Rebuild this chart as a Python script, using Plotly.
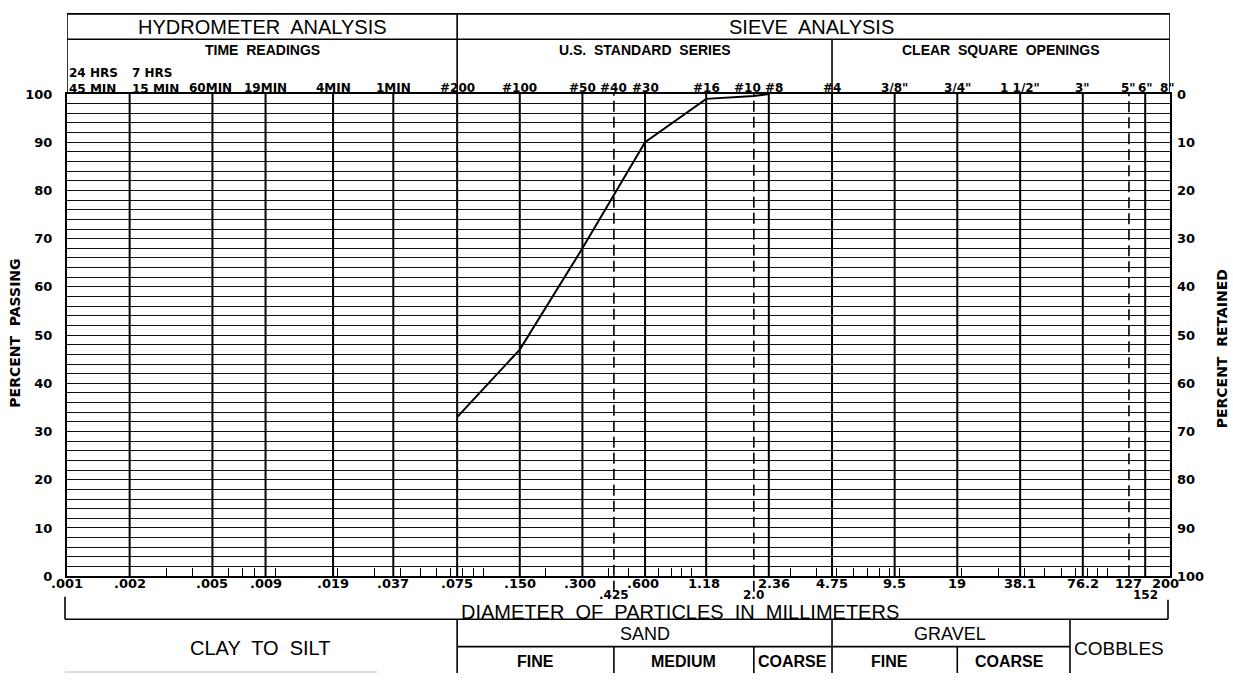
import math
import plotly.graph_objects as go

W, H = 1233, 681

# ---------------- data ----------------
sieve_mm = [0.075, 0.150, 0.300, 0.425, 0.600, 1.18, 2.0, 2.36]
percent_passing = [33, 47, 68, 79, 90, 99, 99.6, 100]

solid_lines_mm = [0.002, 0.005, 0.009, 0.019, 0.037, 0.075, 0.150, 0.300, 0.600,
                  1.18, 2.36, 4.75, 9.5, 19, 38.1, 76.2, 152]
dashed_lines_mm = [0.425, 2.0, 127]

bottom_tick_mm = [0.001, 0.002, 0.005, 0.009, 0.019, 0.037, 0.075, 0.150, 0.300,
                  0.600, 1.18, 2.36, 4.75, 9.5, 19, 38.1, 76.2, 127, 200]
bottom_tick_text = [".001", ".002", ".005", ".009", ".019", ".037", ".075", ".150",
                    ".300", ".600", "1.18", "2.36", "4.75", "9.5", "19", "38.1",
                    "76.2", "127", "200"]
lower_tick_mm = [0.425, 2.0, 152]
lower_tick_text = [".425", "2.0", "152"]

time_mm = [0.001, 0.002, 0.005, 0.009, 0.019, 0.037]
time_text = ["24 HRS<br>45 MIN", "7 HRS<br>15 MIN", "60MIN", "19MIN", "4MIN", "1MIN"]
sieve_no_mm = [0.075, 0.150, 0.300, 0.425, 0.600, 1.18, 2.0, 2.36, 4.75]
sieve_no_text = ["#200", "#100", "#50", "#40", "#30", "#16", "#10", "#8", "#4"]
opening_mm = [9.5, 19, 38.1, 76.2, 127, 152, 200]
opening_text = ['3/8"', '3/4"', '1 1/2"', '3"', '5"', '6"', '8"']

y_left_ticks = [0, 10, 20, 30, 40, 50, 60, 70, 80, 90, 100]

# classification boundaries (mm)
x_min_mm, x_max_mm = 0.001, 200
fines_sand_mm = 0.075
sand_fine_med_mm = 0.425
sand_med_coarse_mm = 2.0
sand_gravel_mm = 4.75
gravel_fine_coarse_mm = 19

# ---------------- helpers ----------------
def px(x):
    return x / W

def py(y):
    return 1 - y / H

def lg(v):
    return math.log10(v)

BLACK = "#000000"
FONT_B = dict(family="DejaVu Sans", size=13, color=BLACK, weight="bold")

fig = go.Figure()

fig.add_trace(go.Scatter(x=sieve_mm, y=percent_passing, mode="lines",
                         line=dict(color=BLACK, width=2),
                         showlegend=False, hoverinfo="skip"))
# invisible trace on right axis (percent retained)
fig.add_trace(go.Scatter(x=sieve_mm, y=[100 - p for p in percent_passing],
                         yaxis="y2", mode="lines", line=dict(width=0),
                         opacity=0, showlegend=False, hoverinfo="skip"))

shapes = []
# vertical grid lines
for v in solid_lines_mm:
    shapes.append(dict(type="line", xref="x", yref="y", x0=v, x1=v, y0=0, y1=100,
                       line=dict(color=BLACK, width=2)))
for v in dashed_lines_mm:
    y0 = py(598) if v in lower_tick_mm else py(582)
    shapes.append(dict(type="line", xref="x", yref="paper", x0=v, x1=v,
                       y0=y0, y1=py(89),
                       line=dict(color=BLACK, width=1.6, dash="11px,5px")))

LW = 1.6
def hline(xref, x0, x1, y, width=LW, color=BLACK):
    shapes.append(dict(type="line", xref=xref, yref="paper", x0=x0, x1=x1,
                       y0=py(y), y1=py(y), line=dict(color=color, width=width)))

def vline(xref, x, y0, y1, width=LW):
    shapes.append(dict(type="line", xref=xref, yref="paper", x0=x, x1=x,
                       y0=py(y0), y1=py(y1), line=dict(color=BLACK, width=width)))

# header box
hline("x", x_min_mm, x_max_mm, 7)
hline("x", x_min_mm, x_max_mm, 33)
vline("x", x_min_mm, 7, 89)
vline("x", x_max_mm, 7, 89)
vline("x", fines_sand_mm, 7, 89)
vline("x", sand_gravel_mm, 33, 89)

# footer bracket and classification table
vline("paper", px(65), 603, 626)
hline("paper", px(65), px(1168), 626)
vline("paper", px(1168), 606, 626)
vline("x", fines_sand_mm, 626, 681)
vline("x", sand_gravel_mm, 626, 681)
vline("paper", px(1070), 626, 681)
hline("paper", px(458), px(1070), 654)
vline("x", sand_fine_med_mm, 654, 681)
vline("x", sand_med_coarse_mm, 654, 681)
vline("x", gravel_fine_coarse_mm, 654, 681)
hline("paper", px(65), px(377), 680, width=1, color="#bbbbbb")

ann = []
def text(x, y, s, size=13, bold=True, xref="paper", xanchor="center",
         yanchor="middle", family="DejaVu Sans", xshift=0, align="center", angle=0):
    ann.append(dict(x=x, y=y, xref=xref, yref="paper", text=s, showarrow=False,
                    xanchor=xanchor, yanchor=yanchor, xshift=xshift, align=align,
                    textangle=angle, borderpad=0,
                    font=dict(family=family, size=size, color=BLACK,
                              weight="bold" if bold else "normal")))

# header titles
text((lg(x_min_mm) + lg(fines_sand_mm)) / 2, py(20), "HYDROMETER  ANALYSIS",
     size=20, bold=False, xref="x", family="Liberation Sans")
text((lg(fines_sand_mm) + lg(x_max_mm)) / 2, py(20), "SIEVE  ANALYSIS",
     size=20, bold=False, xref="x", family="Liberation Sans", xshift=-2)
text((lg(x_min_mm) + lg(fines_sand_mm)) / 2, py(44), "TIME  READINGS",
     size=14, xref="x", family="Liberation Sans")
text((lg(fines_sand_mm) + lg(sand_gravel_mm)) / 2, py(44), "U.S.  STANDARD  SERIES",
     size=14, xref="x", family="Liberation Sans")
text((lg(sand_gravel_mm) + lg(x_max_mm)) / 2, py(44), "CLEAR  SQUARE  OPENINGS",
     size=14, xref="x", family="Liberation Sans")

# top labels
for i, (v, s) in enumerate(zip(time_mm, time_text)):
    if "<br>" in s:
        text(lg(v), py(76), s, size=12, xref="x", xanchor="left", align="left", xshift=1)
    else:
        text(lg(v), py(83), s, size=12, xref="x", xshift=-2 if i == 2 else 0)
for v, s in zip(sieve_no_mm, sieve_no_text):
    sh = -6 if v == sand_med_coarse_mm else (5 if v == 2.36 else 0)
    text(lg(v), py(83), s, size=12, xref="x", xshift=sh)
for v, s in zip(opening_mm, opening_text):
    text(lg(v), py(83), s, size=12, xref="x", xshift=-3 if v == x_max_mm else 0)

# bottom tick labels
for v, s in zip(bottom_tick_mm, bottom_tick_text):
    sh = 5 if v == 2.36 else (-5 if v == x_max_mm else (-2 if v in (0.300, 0.600, 1.18) else 0))
    text(lg(v), py(589), s, size=13, xref="x", xshift=sh)
for v, s in zip(lower_tick_mm, lower_tick_text):
    text(lg(v), py(601), s, size=12, xref="x")

# axis titles
text(px(15), py(334), "PERCENT  PASSING", size=14, angle=-90)
text(px(1222), py(350), "PERCENT  RETAINED", size=14, angle=-90)

# footer labels
text(px(680), py(619), "DIAMETER  OF  PARTICLES  IN  MILLIMETERS",
     size=20, bold=False, family="Liberation Sans")
text(px(260), py(655), "CLAY  TO  SILT", size=20, bold=False, family="Liberation Sans")
text((lg(fines_sand_mm) + lg(sand_gravel_mm)) / 2, py(641), "SAND",
     size=18, bold=False, xref="x", family="Liberation Sans")
text(px((830 + 1070) / 2), py(641), "GRAVEL", size=18, bold=False, family="Liberation Sans")
text(px(1119), py(656), "COBBLES", size=19, bold=False, family="Liberation Sans")
text((lg(fines_sand_mm) + lg(sand_fine_med_mm)) / 2, py(669), "FINE",
     size=16, xref="x", family="Liberation Sans")
text((lg(sand_fine_med_mm) + lg(sand_med_coarse_mm)) / 2, py(669), "MEDIUM",
     size=16, xref="x", family="Liberation Sans")
text((lg(sand_med_coarse_mm) + lg(sand_gravel_mm)) / 2, py(669), "COARSE",
     size=16, xref="x", family="Liberation Sans")
text(px((830 + 949) / 2), py(669), "FINE", size=16, family="Liberation Sans")
text(px((949 + 1070) / 2), py(669), "COARSE", size=16, family="Liberation Sans")

fig.update_layout(
    width=W, height=H,
    margin=dict(l=0, r=0, t=0, b=0),
    paper_bgcolor="white", plot_bgcolor="white",
    showlegend=False,
    shapes=shapes,
    annotations=ann,
    xaxis=dict(
        type="log", range=[lg(x_min_mm), lg(x_max_mm)],
        domain=[px(67), px(1170)],
        tickmode="linear", tick0=0, dtick="D1",
        ticks="inside", ticklen=8, tickwidth=1, tickcolor=BLACK,
        showticklabels=False, showgrid=False, zeroline=False,
        showline=True, linewidth=2, linecolor=BLACK, mirror=True,
    ),
    yaxis=dict(
        range=[0, 100], domain=[py(582), py(89)],
        tickmode="array", tickvals=y_left_ticks,
        ticks="", showgrid=True, gridcolor="#111111", gridwidth=1,
        minor=dict(dtick=2, showgrid=True, gridcolor="#111111", gridwidth=1),
        zeroline=False, showline=True, linewidth=2, linecolor=BLACK, mirror=True,
        tickfont=FONT_B, ticklabelstandoff=10,
    ),
    yaxis2=dict(
        range=[100, 0], overlaying="y", side="right", anchor="x",
        tickmode="array", tickvals=y_left_ticks,
        ticks="", showgrid=False, zeroline=False, showline=False,
        tickfont=FONT_B, ticklabelstandoff=6,
    ),
)

fig.write_html("out.html")
